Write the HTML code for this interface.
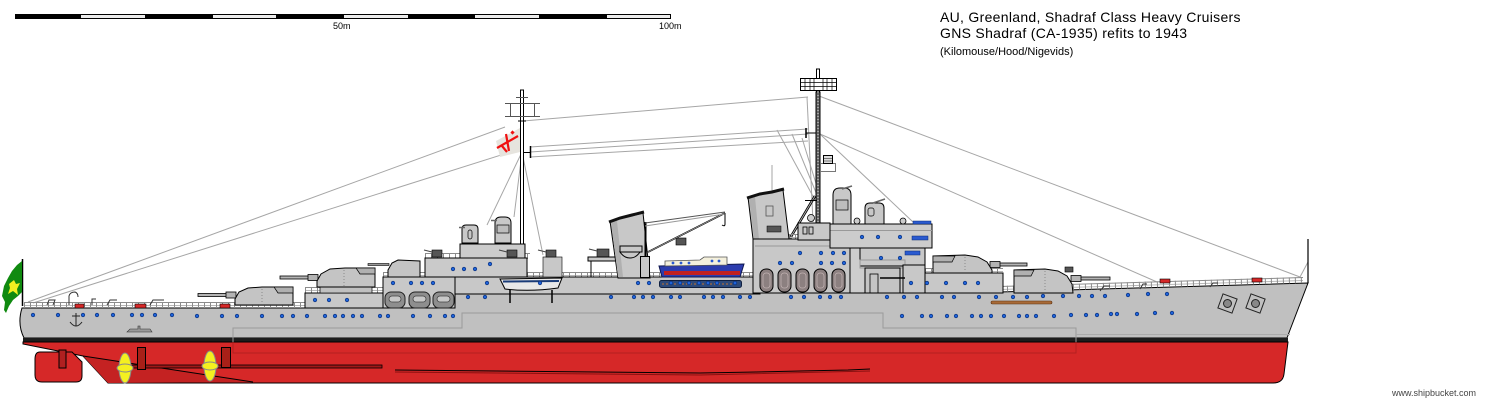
<!DOCTYPE html>
<html><head><meta charset="utf-8"><style>
html,body{margin:0;padding:0;background:#fff;}
svg{display:block;}
</style></head><body>
<svg width="1508" height="404" viewBox="0 0 1508 404" xmlns="http://www.w3.org/2000/svg">
<rect width="1508" height="404" fill="#fff"/>
<!-- scale bar -->
<rect x="15" y="14" width="656" height="5" fill="#000"/>
<g fill="#ececec">
<rect x="81" y="15" width="64" height="3"/><rect x="213" y="15" width="63" height="3"/><rect x="344" y="15" width="64" height="3"/><rect x="475" y="15" width="64" height="3"/><rect x="607" y="15" width="63" height="3"/>
</g>
<g font-family="Liberation Sans, Arial, sans-serif" font-size="9" fill="#000">
<text x="333" y="29">50m</text><text x="659" y="29">100m</text>
</g>
<g font-family="Liberation Sans, Arial, sans-serif" fill="#000">
<text x="940" y="22" font-size="14" letter-spacing="0.3">AU, Greenland, Shadraf Class Heavy Cruisers</text>
<text x="940" y="38" font-size="14" letter-spacing="0.3">GNS Shadraf (CA-1935) refits to 1943</text>
<text x="940" y="55" font-size="11">(Kilomouse/Hood/Nigevids)</text>
</g>
<text x="1392" y="396" font-family="Liberation Sans, Arial, sans-serif" font-size="9" fill="#444">www.shipbucket.com</text>

<!-- rigging -->
<g stroke="#a6a6a6" stroke-width="1" fill="none">
<line x1="28" y1="302" x2="505" y2="127"/>
<line x1="33" y1="303" x2="520" y2="149"/>
<line x1="523" y1="121" x2="808" y2="97"/>
<line x1="530" y1="147" x2="808" y2="129"/>
<line x1="530" y1="152" x2="808" y2="134"/>
<line x1="530" y1="157" x2="808" y2="141"/>
<line x1="819" y1="96" x2="1300" y2="277"/>
<line x1="820" y1="134" x2="1157" y2="282"/>
<line x1="821" y1="135" x2="913" y2="222"/>
<line x1="522" y1="152" x2="487" y2="225"/>
<line x1="522" y1="152" x2="543" y2="255"/>
<line x1="522" y1="152" x2="514" y2="217"/>
<line x1="807" y1="97" x2="813" y2="222"/>
<line x1="777" y1="130" x2="815" y2="200"/>
<line x1="792" y1="134" x2="817" y2="195"/>
<line x1="802" y1="138" x2="818" y2="190"/>
<line x1="1300" y1="277" x2="1308" y2="262"/>
<line x1="772" y1="165" x2="772" y2="205"/>
</g>

<!-- aft mast -->
<rect x="520.5" y="90" width="3" height="168" fill="#fff" stroke="#000"/>
<g stroke="#555" stroke-width="1">
<line x1="505" y1="103.5" x2="540" y2="103.5"/><line x1="505" y1="116.5" x2="540" y2="116.5"/>
<line x1="510.5" y1="103" x2="510.5" y2="117"/><line x1="534.5" y1="103" x2="534.5" y2="117"/>
<line x1="516" y1="97.5" x2="528" y2="97.5"/>
</g>
<line x1="524" y1="152.5" x2="531" y2="152.5" stroke="#000"/>
<line x1="530.5" y1="146" x2="530.5" y2="158" stroke="#000" stroke-width="1.5"/>
<line x1="518" y1="121" x2="526" y2="121" stroke="#000"/>
<!-- flag aft -->
<polygon points="496,141 520,128 520,152 500,157" fill="#e6e4de"/>
<g stroke="#f01010" stroke-width="2.2" fill="none">
<line x1="497" y1="148" x2="518" y2="136"/>
<line x1="506" y1="134" x2="509" y2="151"/>
<line x1="502" y1="146" x2="507" y2="152"/>
</g>
<rect x="511" y="131" width="3" height="3" fill="#f01010" transform="rotate(45 512.5 132.5)"/>

<!-- fore mast -->
<rect x="816.5" y="69" width="3" height="24" fill="#fff" stroke="#000"/>
<rect x="816" y="92" width="4" height="150" fill="#666" stroke="#000"/>
<line x1="818" y1="92" x2="818" y2="242" stroke="#ddd" stroke-width="1" stroke-dasharray="1 2"/>
<rect x="800.5" y="78.5" width="36" height="12" fill="#fff" stroke="#000"/>
<g stroke="#000" stroke-width="0.7">
<line x1="800" y1="82.5" x2="837" y2="82.5"/><line x1="800" y1="86.5" x2="837" y2="86.5"/>
<line x1="805" y1="78" x2="805" y2="91"/><line x1="810" y1="78" x2="810" y2="91"/><line x1="814" y1="78" x2="814" y2="91"/>
<line x1="823" y1="78" x2="823" y2="91"/><line x1="827" y1="78" x2="827" y2="91"/><line x1="832" y1="78" x2="832" y2="91"/>
</g>
<line x1="806" y1="128" x2="806" y2="138" stroke="#000" stroke-width="1.5"/>
<line x1="806" y1="133" x2="816" y2="133" stroke="#000"/>
<line x1="789" y1="240" x2="815" y2="196" stroke="#000" stroke-width="2.6"/>
<line x1="789" y1="240" x2="815" y2="196" stroke="#bbb" stroke-width="0.8"/>
<line x1="805" y1="200.5" x2="817" y2="200.5" stroke="#000"/>
<rect x="820.5" y="163.5" width="15" height="8" fill="none" stroke="#777"/>
<rect x="823.5" y="155.5" width="9" height="8" fill="#ddd" stroke="#000"/>
<line x1="824" y1="158.5" x2="832" y2="158.5" stroke="#777"/><line x1="824" y1="161" x2="832" y2="161" stroke="#777"/>

<!-- HULL -->
<path d="M22,308 L455,308 L455,294 L1000,292 L1308,283 L1290,330 L1287,338 L24,338 Q17,324 22,308 Z" fill="#c0c0c0" stroke="#000"/>
<rect x="23" y="338" width="1265" height="4" fill="#1c1c1c"/>
<path d="M23,342 L1288,342 L1284,374 Q1283,383 1273,383 L108,383 L83,356 L23,344 Z" fill="#d62828" stroke="#000"/>
<path d="M83,356 L253,382 L108,383 Z" fill="#c42222"/>
<line x1="83" y1="356" x2="253" y2="382" stroke="#000"/>
<!-- belt -->
<path d="M233,342 L233,328 L462,328 L462,313 L883,313 L883,328 L1076,328 L1076,342" fill="none" stroke="#9a9a9a"/>
<path d="M233,342 L233,353 L1076,353 L1076,342" fill="none" stroke="#b42020"/>
<line x1="1076" y1="334.5" x2="1290" y2="334.5" stroke="#aaa"/>
<!-- rudder, shafts, props -->
<path d="M40,352 L72,352 L82,362 L82,376 Q82,382 76,382 L42,382 Q35,382 35,375 L35,359 Q35,352 40,352 Z" fill="#d62828" stroke="#000"/>
<rect x="59" y="350" width="7" height="18" fill="#b02020" stroke="#000"/>
<rect x="132" y="365" width="250" height="3" fill="#a01818" stroke="#000" stroke-width="0.8"/>
<polyline points="395,370 700,373 756,372 800,371 848,370 870,369" fill="none" stroke="#000" stroke-width="1"/>
<polyline points="395,372 700,375 870,371" fill="none" stroke="#8a1010" stroke-width="1"/>
<rect x="137.5" y="347.5" width="8" height="22" fill="#a82018" stroke="#000"/>
<rect x="221.5" y="347.5" width="9" height="20" fill="#a82018" stroke="#000"/>
<ellipse cx="125" cy="368" rx="6" ry="15" fill="#f4f020" stroke="#888"/>
<ellipse cx="125" cy="368" rx="8" ry="4" fill="#f4f020" stroke="#888"/>
<ellipse cx="210" cy="366" rx="6" ry="15" fill="#f4f020" stroke="#888"/>
<ellipse cx="210" cy="366" rx="8" ry="4" fill="#f4f020" stroke="#888"/>

<!-- stern flag -->
<line x1="22.5" y1="259" x2="22.5" y2="306" stroke="#000" stroke-width="1.5"/>
<polygon points="22,261 17,265 12,271 8,278 4,286 2,296 5,302 4,310 6,313 9,306 13,300 18,296 22,292" fill="#108a10"/>
<polygon points="9,284 14,280 16,284 20,283 17,289 18,295 13,291 8,294 10,288" fill="#f0f020"/>
<!-- bow staff -->
<line x1="1308" y1="239" x2="1308" y2="283" stroke="#000" stroke-width="1.2"/>

<!-- RAILS -->
<g fill="none">
<g stroke="#8c8c8c">
<line x1="24" y1="302.5" x2="455" y2="302.5"/>
<polyline points="455,288.5 1000,286.5 1303,277.5"/>
<line x1="305" y1="287.5" x2="383" y2="287.5"/>
<line x1="383" y1="272.5" x2="760" y2="272.5"/>
<line x1="425" y1="253.5" x2="530" y2="253.5"/>
<line x1="753" y1="234.5" x2="830" y2="234.5"/>
<line x1="925" y1="268.5" x2="1003" y2="268.5"/>
</g>
<g stroke="#b8b8b8">
<line x1="24" y1="305.5" x2="455" y2="305.5"/>
<polyline points="455,291.5 1000,289.5 1303,280.5"/>
<line x1="305" y1="290.5" x2="383" y2="290.5"/>
<line x1="383" y1="275.5" x2="760" y2="275.5"/>
<line x1="753" y1="237.5" x2="830" y2="237.5"/>
<line x1="925" y1="271.5" x2="1003" y2="271.5"/>
</g>
<g stroke="#8c8c8c" stroke-width="6" stroke-dasharray="1 5">
<line x1="24" y1="305" x2="455" y2="305"/>
<polyline points="455,291 1000,289 1303,280"/>
<line x1="305" y1="290" x2="383" y2="290"/>
<line x1="383" y1="275" x2="760" y2="275"/>
<line x1="425" y1="256" x2="530" y2="256"/>
<line x1="753" y1="237" x2="830" y2="237"/>
<line x1="925" y1="271" x2="1003" y2="271"/>
</g>
</g>

<!-- small stern deck bits -->
<g fill="#d62828" stroke="#000" stroke-width="0.6">
<rect x="75" y="304" width="9" height="4"/><rect x="135" y="304" width="11" height="4"/><rect x="220" y="304" width="10" height="4"/><rect x="1160" y="279" width="10" height="4"/><rect x="1252" y="278" width="10" height="4"/>
</g>
<g fill="none" stroke="#333" stroke-width="1">
<path d="M69,305 L69,296 Q70,292 75,292 Q78,293 78,297"/>
<path d="M92,305 L92,299 L96,299"/>
<path d="M47,305 L49,300 L55,300 L53,305"/>
<path d="M107,305 L110,300 L117,300"/>
<path d="M150,305 L153,300 L164,300"/>
</g>
<!-- anchor stern -->
<g stroke="#222" stroke-width="1" fill="none">
<line x1="76" y1="313" x2="76" y2="326"/><line x1="72" y1="316" x2="80" y2="316"/>
<path d="M70,322 Q76,330 82,322"/>
</g>
<path d="M127,332 L152,332 L150,329 L140,329 L140,326 L138,326 L138,329 L130,329 Z" fill="#999" stroke="#333" stroke-width="0.6"/>

<!-- AFT turrets -->
<rect x="198" y="293.5" width="37" height="3" fill="#b4b4b4" stroke="#000" stroke-width="0.8"/>
<rect x="226" y="292" width="10" height="6" fill="#b4b4b4" stroke="#000" stroke-width="0.8"/>
<path d="M293,305 L293,287 L262,287 L248,288 L239,292 L235,299 L235,305 Z" fill="#c4c4c4" stroke="#000"/>
<path d="M274,287 L293,287 L293,293 L278,293 Z" fill="#b0b0b0" stroke="#000" stroke-width="0.7"/>
<line x1="262" y1="289" x2="262" y2="304" stroke="#8a8a8a" stroke-dasharray="1 2"/>
<rect x="305" y="293" width="78" height="15" fill="#c8c8c8" stroke="#000"/>
<rect x="320" y="284" width="52" height="9" fill="#c0c0c0" stroke="#000" stroke-width="0.7"/>
<rect x="280" y="276" width="37" height="3" fill="#b4b4b4" stroke="#000" stroke-width="0.8"/>
<rect x="308" y="274.5" width="10" height="6" fill="#b4b4b4" stroke="#000" stroke-width="0.8"/>
<path d="M375,287 L375,268 L345,268 L330,269 L321,274 L317,281 L317,287 Z" fill="#c4c4c4" stroke="#000"/>
<path d="M356,268 L375,268 L375,274 L360,274 Z" fill="#b0b0b0" stroke="#000" stroke-width="0.7"/>
<line x1="344" y1="270" x2="344" y2="286" stroke="#8a8a8a" stroke-dasharray="1 2"/>

<!-- aft superstructure -->
<rect x="383" y="277" width="72" height="31" fill="#c8c8c8" stroke="#000"/>
<g fill="#8e8e8e" stroke="#222">
<rect x="385" y="292" width="20" height="16" rx="6"/><rect x="409" y="292" width="21" height="16" rx="6"/><rect x="433" y="292" width="21" height="16" rx="6"/>
</g>
<g fill="#c8c8c8" stroke="#444" stroke-width="0.8">
<rect x="389" y="296" width="12" height="6" rx="3"/><rect x="413" y="296" width="13" height="6" rx="3"/><rect x="437" y="296" width="13" height="6" rx="3"/>
</g>
<rect x="455" y="277" width="305" height="17" fill="#c8c8c8" stroke="#000"/>
<rect x="425" y="258" width="102" height="19" fill="#cacaca" stroke="#000"/>
<rect x="460" y="244" width="65" height="14" fill="#cccccc" stroke="#000"/>
<path d="M462,243 L462,229 Q462,225 466,225 L474,225 Q478,225 478,229 L478,243 Z" fill="#c8c8c8" stroke="#000"/>
<rect x="468" y="230" width="4" height="9" rx="2" fill="none" stroke="#000" stroke-width="0.7"/>
<path d="M495,243 L495,223 Q495,217 501,217 L505,217 Q511,217 511,223 L511,243 Z" fill="#c8c8c8" stroke="#000"/>
<rect x="497" y="225" width="12" height="8" fill="#bdbdbd" stroke="#000" stroke-width="0.7"/>
<line x1="497" y1="220.5" x2="491" y2="220.5" stroke="#666" stroke-width="1.5"/>
<line x1="465" y1="227.5" x2="459" y2="227.5" stroke="#666" stroke-width="1.5"/>
<!-- 5in mount aft -->
<rect x="368" y="263.5" width="21" height="2" fill="#999" stroke="#000" stroke-width="0.6"/>
<path d="M420,277 L420,261 L398,260 L392,263 L388,270 L388,277 Z" fill="#c4c4c4" stroke="#000"/>
<!-- small AA mounts -->
<g fill="#555" stroke="#000" stroke-width="0.6">
<rect x="432" y="250" width="10" height="7"/><rect x="507" y="250" width="10" height="7"/>
<rect x="543" y="257" width="19" height="20" fill="#c8c8c8"/>
<rect x="546" y="250" width="10" height="7"/>
<rect x="597" y="249" width="12" height="8"/>
<rect x="676" y="238" width="10" height="7"/>
<rect x="1065" y="267" width="8" height="5"/>
</g>
<g stroke="#444" stroke-width="1">
<line x1="432" y1="252" x2="424" y2="250"/><line x1="507" y1="252" x2="499" y2="250"/><line x1="546" y1="252" x2="538" y2="250"/><line x1="597" y1="251" x2="589" y2="249"/>
</g>
<rect x="588" y="257" width="34" height="4" fill="#c8c8c8" stroke="#000"/>
<line x1="591" y1="261" x2="591" y2="277" stroke="#000"/><line x1="618" y1="261" x2="618" y2="277" stroke="#000"/>
<!-- white boat -->
<path d="M500,279 L562,278 L558,288 Q530,292 505,289 Z" fill="#e8e8e8" stroke="#000"/>
<line x1="503" y1="281.5" x2="559" y2="281" stroke="#1a3c78" stroke-width="2"/>
<line x1="510" y1="290" x2="510" y2="303" stroke="#000" stroke-width="1.5"/>
<line x1="552" y1="290" x2="552" y2="303" stroke="#000" stroke-width="1.5"/>

<!-- aft stack -->
<polygon points="610,221 643,213 650,278 618,278" fill="#c8c8c8" stroke="#000"/>
<polygon points="611,222 617,221 623,277 618,277" fill="#b0b0b0"/>
<polyline points="609,222 620,218 632,215 644,212" fill="none" stroke="#111" stroke-width="3"/>
<path d="M620,252 L640,252 Q636,258 630,258 Q624,258 620,252 Z" fill="#c8c8c8" stroke="#000"/>
<rect x="620" y="246" width="22" height="6" fill="#c8c8c8" stroke="#000"/>
<!-- crane -->
<line x1="645.5" y1="222" x2="645.5" y2="256" stroke="#000" stroke-width="2"/>
<rect x="640.5" y="256.5" width="9" height="21" fill="#c8c8c8" stroke="#000"/>
<line x1="648" y1="252" x2="725" y2="213" stroke="#000" stroke-width="1.8"/>
<line x1="648" y1="252" x2="725" y2="213" stroke="#ccc" stroke-width="0.6"/>
<line x1="645" y1="223" x2="725" y2="212" stroke="#555" stroke-width="1"/>
<line x1="645" y1="226" x2="725" y2="214" stroke="#999" stroke-width="1"/>
<path d="M725,213 L725,224 Q725,227 722,225" fill="none" stroke="#000"/>
<!-- boats -->
<path d="M659,266 L744,264 L740,277 L662,277 Z" fill="#2c3cae" stroke="#101850"/>
<rect x="664" y="271" width="76" height="4" fill="#c02020"/>
<path d="M665,266 L665,261 L700,260 L704,257 L727,257 L727,265 Z" fill="#f4f0dc" stroke="#555" stroke-width="0.8"/>
<g fill="#2a5ad0"><circle cx="673" cy="263" r="1.4"/><circle cx="681" cy="263" r="1.4"/><circle cx="689" cy="263" r="1.4"/><circle cx="712" cy="261" r="1.4"/><circle cx="719" cy="261" r="1.4"/></g>
<rect x="659.5" y="280.5" width="82" height="7" rx="2" fill="#2e4a7a" stroke="#102040"/>
<line x1="662" y1="284" x2="738" y2="284" stroke="#c07030" stroke-dasharray="2 2"/>

<!-- forward stack -->
<polygon points="748,197 783,190 789,239 753,239" fill="#c8c8c8" stroke="#000"/>
<polygon points="749,198 755,197 759,239 754,239" fill="#b0b0b0"/>
<polyline points="747,198 760,194 772,192 784,189" fill="none" stroke="#111" stroke-width="3"/>
<rect x="766" y="206" width="7" height="10" fill="none" stroke="#555" stroke-width="0.8"/>
<rect x="767" y="226" width="14" height="6" fill="#555" stroke="#000" stroke-width="0.5"/>
<!-- forward superstructure -->
<rect x="753" y="239" width="97" height="54" fill="#c8c8c8" stroke="#000"/>
<path d="M755,246 L848,246" stroke="#999"/>
<rect x="850" y="248" width="53" height="45" fill="#cdcdcd" stroke="#000"/>
<rect x="860" y="248" width="65" height="18" fill="#c8c8c8" stroke="#000"/>
<rect x="860" y="260" width="45" height="8" fill="none" stroke="#999"/>
<rect x="903" y="265" width="22" height="28" fill="#c8c8c8" stroke="#000"/>
<rect x="865" y="268" width="35" height="25" fill="#c4c4c4" stroke="#000"/>
<rect x="870" y="274" width="8" height="19" fill="none" stroke="#000" stroke-width="0.8"/>
<line x1="880" y1="278" x2="905" y2="278" stroke="#000" stroke-width="1.5"/>
<rect x="830" y="224" width="102" height="24" fill="#cccccc" stroke="#000"/>
<line x1="830" y1="230.5" x2="932" y2="230.5" stroke="#999"/>
<rect x="798" y="223" width="32" height="17" fill="#c8c8c8" stroke="#000"/>
<rect x="803" y="227" width="4" height="7" fill="none" stroke="#000" stroke-width="0.8"/>
<rect x="809" y="227" width="4" height="7" fill="none" stroke="#000" stroke-width="0.8"/>
<g fill="#2a5ad0" stroke="#0a2a70" stroke-width="0.5">
<rect x="913" y="221" width="18" height="3"/><rect x="912" y="236" width="16" height="4"/><rect x="905" y="251" width="15" height="4"/>
</g>
<!-- directors -->
<path d="M833,224 L833,195 Q833,188 840,188 L844,188 Q851,188 851,195 L851,224 Z" fill="#c8c8c8" stroke="#000"/>
<rect x="836" y="200" width="12" height="10" fill="#bdbdbd" stroke="#000" stroke-width="0.7"/>
<line x1="842" y1="189" x2="852" y2="186" stroke="#666" stroke-width="1.5"/>
<path d="M865,224 L865,208 Q865,203 870,203 L879,203 Q884,203 884,208 L884,224 Z" fill="#c8c8c8" stroke="#000"/>
<rect x="868" y="208" width="6" height="8" rx="2" fill="none" stroke="#000" stroke-width="0.7"/>
<line x1="873" y1="203" x2="885" y2="199" stroke="#666" stroke-width="1.5"/>
<g fill="#ccc" stroke="#000" stroke-width="0.8">
<circle cx="857" cy="221" r="3"/><circle cx="903" cy="221" r="3"/><circle cx="811" cy="218" r="3.5"/>
</g>
<!-- lifeboat ovals -->
<g fill="#8c8080" stroke="#000">
<rect x="760" y="269" width="13" height="23" rx="6"/><rect x="778" y="269" width="13" height="23" rx="6"/><rect x="796" y="269" width="13" height="23" rx="6"/><rect x="814" y="269" width="13" height="23" rx="6"/><rect x="832" y="269" width="13" height="23" rx="6"/>
</g>
<g fill="none" stroke="#c0b0b0" stroke-width="0.8">
<rect x="763" y="273" width="7" height="15" rx="3"/><rect x="781" y="273" width="7" height="15" rx="3"/><rect x="799" y="273" width="7" height="15" rx="3"/><rect x="817" y="273" width="7" height="15" rx="3"/><rect x="835" y="273" width="7" height="15" rx="3"/>
</g>

<!-- FORWARD turrets -->
<rect x="925" y="273" width="78" height="20" fill="#c8c8c8" stroke="#000"/>
<rect x="992" y="263" width="35" height="3" fill="#b4b4b4" stroke="#000" stroke-width="0.8"/>
<rect x="990" y="261.5" width="10" height="6" fill="#b4b4b4" stroke="#000" stroke-width="0.8"/>
<path d="M933,273 L933,256 L965,255 L978,257 L987,262 L992,270 L992,273 Z" fill="#c4c4c4" stroke="#000"/>
<path d="M933,256 L955,256 L952,262 L933,262 Z" fill="#b0b0b0" stroke="#000" stroke-width="0.7"/>
<line x1="965" y1="257" x2="965" y2="272" stroke="#8a8a8a" stroke-dasharray="1 2"/>
<rect x="1073" y="277" width="37" height="3" fill="#b4b4b4" stroke="#000" stroke-width="0.8"/>
<rect x="1071" y="275.5" width="10" height="6" fill="#b4b4b4" stroke="#000" stroke-width="0.8"/>
<path d="M1014,293 L1014,270 L1045,269 L1058,271 L1067,276 L1072,284 L1073,293 Z" fill="#c4c4c4" stroke="#000"/>
<path d="M1014,270 L1034,270 L1031,276 L1014,276 Z" fill="#b0b0b0" stroke="#000" stroke-width="0.7"/>
<line x1="1045" y1="271" x2="1045" y2="292" stroke="#8a8a8a" stroke-dasharray="1 2"/>
<!-- forecastle bits -->
<rect x="991" y="301" width="61" height="3" rx="1.5" fill="#a86a38" stroke="#5a3010" stroke-width="0.6"/>
<g fill="none" stroke="#333">
<path d="M1100,291 L1104,286 L1110,286"/><path d="M1140,289 L1143,284 L1147,284"/><path d="M1210,287 L1213,283 L1218,283"/>
</g>
<!-- hawse pipes -->
<g fill="#c0c0c0" stroke="#222">
<rect x="1220" y="296" width="15" height="15" transform="rotate(20 1227.5 303.5)"/>
<rect x="1248" y="296" width="15" height="15" transform="rotate(20 1255.5 303.5)"/>
</g>
<g fill="#888" stroke="#222"><circle cx="1227.5" cy="303.5" r="4"/><circle cx="1255.5" cy="303.5" r="4"/></g>

<!-- PORTHOLES -->
<g fill="#1f63d8" stroke="#0a2a70" stroke-width="0.6">
<!-- aft hull row -->
<circle cx="33" cy="315" r="1.8"/><circle cx="58" cy="315" r="1.8"/><circle cx="83" cy="315" r="1.8"/><circle cx="97" cy="315" r="1.8"/><circle cx="113" cy="315" r="1.8"/><circle cx="132" cy="315" r="1.8"/><circle cx="142" cy="315" r="1.8"/><circle cx="155" cy="315" r="1.8"/><circle cx="172" cy="315" r="1.8"/><circle cx="197" cy="316" r="1.8"/><circle cx="222" cy="316" r="1.8"/><circle cx="237" cy="316" r="1.8"/><circle cx="262" cy="316" r="1.8"/><circle cx="282" cy="316" r="1.8"/><circle cx="293" cy="316" r="1.8"/><circle cx="307" cy="316" r="1.8"/><circle cx="325" cy="316" r="1.8"/><circle cx="335" cy="316" r="1.8"/><circle cx="343" cy="316" r="1.8"/><circle cx="353" cy="316" r="1.8"/><circle cx="362" cy="316" r="1.8"/><circle cx="380" cy="316" r="1.8"/><circle cx="388" cy="316" r="1.8"/><circle cx="413" cy="316" r="1.8"/><circle cx="430" cy="316" r="1.8"/><circle cx="445" cy="316" r="1.8"/><circle cx="453" cy="316" r="1.8"/>
<!-- forecastle upper row -->
<circle cx="468" cy="297" r="1.8"/><circle cx="485" cy="297" r="1.8"/><circle cx="611" cy="297" r="1.8"/><circle cx="634" cy="297" r="1.8"/><circle cx="643" cy="297" r="1.8"/><circle cx="653" cy="297" r="1.8"/><circle cx="671" cy="297" r="1.8"/><circle cx="680" cy="297" r="1.8"/><circle cx="704" cy="297" r="1.8"/><circle cx="713" cy="297" r="1.8"/><circle cx="723" cy="297" r="1.8"/><circle cx="740" cy="297" r="1.8"/><circle cx="750" cy="297" r="1.8"/><circle cx="791" cy="297" r="1.8"/><circle cx="804" cy="297" r="1.8"/><circle cx="820" cy="297" r="1.8"/><circle cx="830" cy="297" r="1.8"/><circle cx="841" cy="297" r="1.8"/><circle cx="887" cy="297" r="1.8"/><circle cx="904" cy="297" r="1.8"/><circle cx="917" cy="297" r="1.8"/><circle cx="942" cy="297" r="1.8"/><circle cx="954" cy="297" r="1.8"/><circle cx="979" cy="297" r="1.8"/><circle cx="996" cy="297" r="1.8"/><circle cx="1013" cy="297" r="1.8"/><circle cx="1027" cy="297" r="1.8"/><circle cx="1043" cy="296" r="1.8"/><circle cx="1063" cy="296" r="1.8"/><circle cx="1079" cy="296" r="1.8"/><circle cx="1092" cy="296" r="1.8"/><circle cx="1105" cy="296" r="1.8"/><circle cx="1128" cy="295" r="1.8"/><circle cx="1148" cy="294" r="1.8"/><circle cx="1167" cy="294" r="1.8"/>
<!-- forward lower row -->
<circle cx="902" cy="316" r="1.8"/><circle cx="922" cy="316" r="1.8"/><circle cx="931" cy="316" r="1.8"/><circle cx="947" cy="316" r="1.8"/><circle cx="956" cy="316" r="1.8"/><circle cx="972" cy="316" r="1.8"/><circle cx="981" cy="316" r="1.8"/><circle cx="991" cy="316" r="1.8"/><circle cx="1004" cy="316" r="1.8"/><circle cx="1019" cy="316" r="1.8"/><circle cx="1027" cy="316" r="1.8"/><circle cx="1036" cy="316" r="1.8"/><circle cx="1054" cy="316" r="1.8"/><circle cx="1071" cy="315" r="1.8"/><circle cx="1086" cy="315" r="1.8"/><circle cx="1097" cy="315" r="1.8"/><circle cx="1111" cy="314" r="1.8"/><circle cx="1117" cy="314" r="1.8"/><circle cx="1137" cy="314" r="1.8"/><circle cx="1155" cy="313" r="1.8"/><circle cx="1172" cy="313" r="1.8"/>
<!-- superstructure -->
<circle cx="315" cy="300" r="1.8"/><circle cx="329" cy="300" r="1.8"/><circle cx="347" cy="300" r="1.8"/>
<circle cx="393" cy="283" r="1.8"/><circle cx="411" cy="283" r="1.8"/><circle cx="422" cy="283" r="1.8"/><circle cx="433" cy="283" r="1.8"/>
<circle cx="453" cy="269" r="1.8"/><circle cx="464" cy="269" r="1.8"/><circle cx="475" cy="269" r="1.8"/><circle cx="490" cy="264" r="1.8"/>
<circle cx="487" cy="283" r="1.8"/><circle cx="540" cy="283" r="1.8"/><circle cx="638" cy="283" r="1.8"/><circle cx="649" cy="283" r="1.8"/><circle cx="671" cy="283" r="1.8"/><circle cx="680" cy="283" r="1.8"/><circle cx="689" cy="283" r="1.8"/><circle cx="699" cy="283" r="1.8"/><circle cx="708" cy="283" r="1.8"/><circle cx="717" cy="283" r="1.8"/><circle cx="735" cy="283" r="1.8"/>
<circle cx="800" cy="253" r="1.8"/><circle cx="821" cy="253" r="1.8"/><circle cx="833" cy="253" r="1.8"/><circle cx="844" cy="253" r="1.8"/><circle cx="780" cy="263" r="1.8"/><circle cx="792" cy="263" r="1.8"/><circle cx="821" cy="263" r="1.8"/><circle cx="832" cy="263" r="1.8"/><circle cx="844" cy="263" r="1.8"/>
<circle cx="862" cy="237" r="1.8"/><circle cx="878" cy="237" r="1.8"/><circle cx="900" cy="237" r="1.8"/><circle cx="881" cy="258" r="1.8"/><circle cx="900" cy="258" r="1.8"/>
<circle cx="911" cy="283" r="1.8"/><circle cx="927" cy="283" r="1.8"/><circle cx="946" cy="283" r="1.8"/><circle cx="965" cy="283" r="1.8"/><circle cx="978" cy="283" r="1.8"/>
</g>
</svg>
</body></html>
